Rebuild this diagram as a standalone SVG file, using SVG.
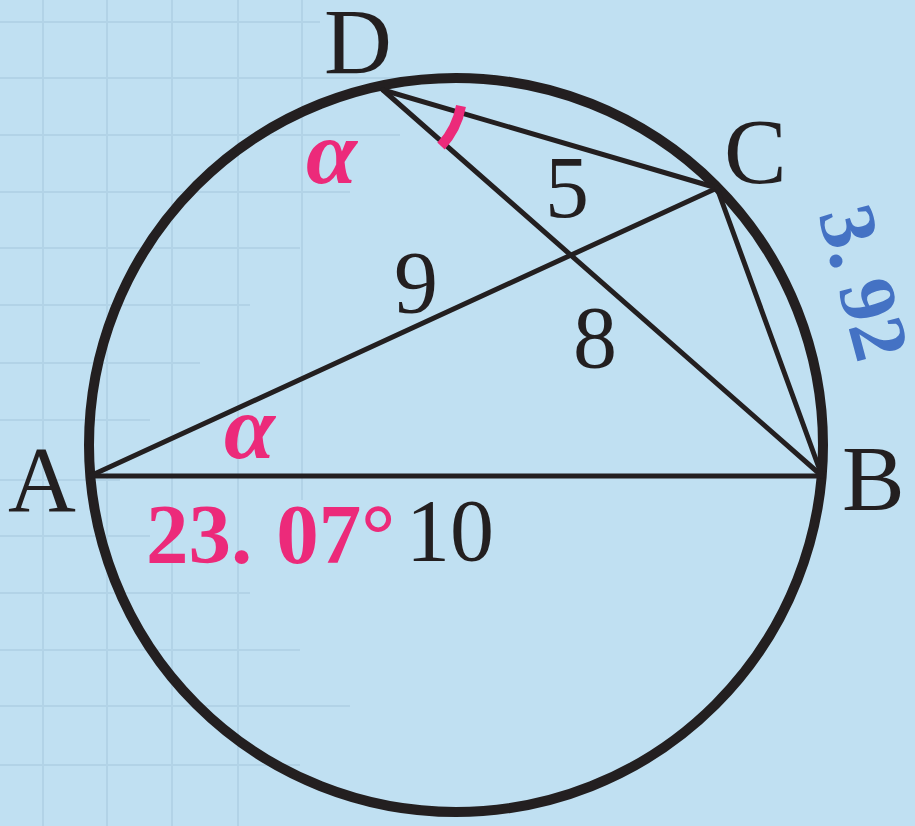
<svg xmlns="http://www.w3.org/2000/svg" width="915" height="826" viewBox="0 0 915 826">
<style>
.grid line{stroke:#b2d3e7;stroke-width:2}
.edge{stroke:#231f20;stroke-width:5;stroke-linecap:round;fill:none}
.lbl{font-family:"Liberation Serif","Times New Roman",serif;fill:#231f20;font-size:94px}
.num{font-family:"Liberation Serif","Times New Roman",serif;fill:#231f20;font-size:88px}
.alpha{font-family:"Liberation Serif","Times New Roman",serif;font-weight:bold;font-style:italic;fill:#ec2a7a;font-size:92px}
.pink{font-family:"Liberation Serif","Times New Roman",serif;font-weight:bold;fill:#ec2a7a;font-size:85px}
.blue{font-family:"Liberation Serif","Times New Roman",serif;font-weight:bold;fill:#4472c4;font-size:80px}
</style>
<rect width="915" height="826" fill="#c0e0f2"/>
<g class="grid">
<line x1="43" y1="0" x2="43" y2="826"/>
<line x1="107" y1="0" x2="107" y2="826"/>
<line x1="172" y1="0" x2="172" y2="826"/>
<line x1="238" y1="0" x2="238" y2="826"/>
<line x1="302" y1="0" x2="302" y2="500"/>
<line x1="0" y1="22" x2="320" y2="22"/>
<line x1="0" y1="78" x2="450" y2="78"/>
<line x1="0" y1="135" x2="400" y2="135"/>
<line x1="0" y1="192" x2="350" y2="192"/>
<line x1="0" y1="248" x2="300" y2="248"/>
<line x1="0" y1="305" x2="250" y2="305"/>
<line x1="0" y1="363" x2="200" y2="363"/>
<line x1="0" y1="420" x2="150" y2="420"/>
<line x1="0" y1="480" x2="120" y2="480"/>
<line x1="0" y1="536" x2="150" y2="536"/>
<line x1="0" y1="593" x2="250" y2="593"/>
<line x1="0" y1="650" x2="300" y2="650"/>
<line x1="0" y1="706" x2="350" y2="706"/>
<line x1="0" y1="765" x2="300" y2="765"/>
</g>
<g id="circle">
<circle cx="456" cy="445" r="367" fill="none" stroke="#231f20" stroke-width="10"/>
</g>
<g id="connectors">
<line class="edge" x1="90" y1="476" x2="822" y2="476"/>
<line class="edge" x1="90" y1="476" x2="717" y2="188"/>
<line class="edge" x1="383" y1="90" x2="717" y2="188"/>
<line class="edge" x1="383" y1="90" x2="822" y2="476"/>
<line class="edge" x1="717" y1="188" x2="822" y2="476"/>
</g>
<g id="angle-mark">
<path d="M461 106 A80 80 0 0 1 441 146" fill="none" stroke="#ec2a7a" stroke-width="10"/>
</g>
<g id="node-A"><text class="lbl" x="8" y="511">A</text></g>
<g id="node-B"><text class="lbl" x="842" y="510">B</text></g>
<g id="node-C"><text class="lbl" x="724" y="183">C</text></g>
<g id="node-D"><text class="lbl" x="324" y="73">D</text></g>
<g id="labels">
<text class="num" x="545" y="217">5</text>
<text class="num" x="394" y="312">9</text>
<text class="num" x="573" y="367">8</text>
<text class="num" x="406" y="560">10</text>
<text class="alpha" x="306" y="183">α</text>
<text class="alpha" x="224" y="458">α</text>
<text class="pink" x="146" y="563">23.<tspan dx="24">07°</tspan></text>
<text class="blue" transform="translate(818 214) rotate(75)">3.<tspan dx="16">92</tspan></text>
</g>
</svg>
